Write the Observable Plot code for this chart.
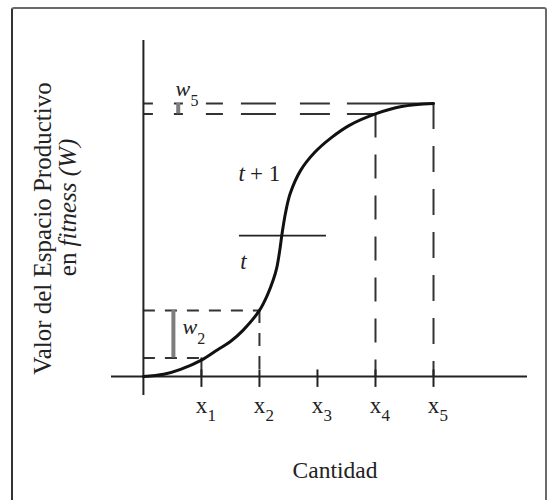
<!DOCTYPE html>
<html><head><meta charset="utf-8">
<script src="https://cdn.jsdelivr.net/npm/d3@7"></script>
<script src="https://cdn.jsdelivr.net/npm/@observablehq/plot@0.6"></script>
<style>
html,body{margin:0;padding:0;background:#fff;overflow:hidden;}
#wrap{position:relative;width:547px;height:500px;overflow:hidden;}
#border{position:absolute;left:10.5px;top:6.5px;width:532.5px;height:540px;border:2px solid #6a6a6a;border-left-color:#333;border-radius:3px;pointer-events:none;}
</style></head><body>
<div id="wrap"><div id="chart"></div><div id="border"></div></div>
<script>
// Curve: Cantidad (in units of x-tick spacing) vs Valor W (0..100 at x5)
const cantidad = [0, 0.35, 0.64, 1, 1.28, 1.5, 1.72, 2, 2.14, 2.24, 2.3, 2.35, 2.39, 2.45, 2.53, 2.71, 2.95, 3.24, 3.55, 4, 4.45, 5];
const valorW   = [0, 0.8, 2.6, 6.0, 9.8, 12.8, 17, 24.2, 30, 35.5, 40, 46.2, 52.4, 60, 67, 75.5, 82.05, 87.5, 92, 96.2, 98.9, 100];
const tickPos = [1, 2, 3, 4, 5];
const tickSub = ["1", "2", "3", "4", "5"];
// Levels read at the ticks
const w2Low = 6.8, w2High = 24.2, w5Low = 96.2, w5High = 100;
const tLevel = 51.6;

const xDomain = [-0.55, 6.62];
const yDomain = [-6.96, 123.08];

const curveData = cantidad.map((c, i) => ({c, w: valorW[i]}));
const tickData = tickPos.map((p, i) => ({p, s: tickSub[i]}));

const serif = "Liberation Serif, Times New Roman, serif";
const ink = "#222";
const longDash = "10,21,9,23,17,18,35,24,30,17,90";

const plot = Plot.plot({
  width: 547, height: 500,
  marginLeft: 111, marginRight: 20, marginTop: 40, marginBottom: 105,
  x: {domain: xDomain, axis: null},
  y: {domain: yDomain, axis: null},
  style: {fontFamily: serif, background: "white"},
  marks: [
    // dashed guide lines (horizontal)
    Plot.ruleY([w5High], {x1: 0, x2: 5, stroke: "#333", strokeWidth: 2, strokeDasharray: longDash}),
    Plot.ruleY([w5Low], {x1: 0, x2: 4, stroke: "#333", strokeWidth: 2, strokeDasharray: longDash}),
    Plot.ruleY([w2High], {x1: 0, x2: 2, stroke: "#333", strokeWidth: 2, strokeDasharray: "12,10"}),
    Plot.ruleY([w2Low], {x1: 0, x2: 1, stroke: "#333", strokeWidth: 2, strokeDasharray: "12,10"}),
    // dashed guide lines (vertical)
    Plot.ruleX([5], {y1: w5High, y2: 0, stroke: "#333", strokeWidth: 2, strokeDasharray: "26,17"}),
    Plot.ruleX([4], {y1: w5Low, y2: 0, stroke: "#333", strokeWidth: 2, strokeDasharray: "24,17"}),
    Plot.ruleX([2], {y1: w2High, y2: 0, stroke: "#333", strokeWidth: 2, strokeDasharray: "13,10"}),
    Plot.ruleX([1], {y1: w2Low, y2: 0, stroke: "#333", strokeWidth: 2}),
    // axes
    Plot.ruleY([0], {x1: xDomain[0], x2: xDomain[1], stroke: ink, strokeWidth: 2}),
    Plot.ruleX([0], {y1: yDomain[0], y2: yDomain[1], stroke: ink, strokeWidth: 2}),
    // ticks
    Plot.ruleX(tickData, {x: "p", y1: -4, y2: 2.4, stroke: ink, strokeWidth: 2}),
    // t line
    Plot.ruleY([tLevel], {x1: 1.655, x2: 3.155, stroke: ink, strokeWidth: 1.6}),
    // gray w bars
    Plot.ruleX([0.6], {y1: w5Low, y2: w5High, stroke: "#7d7d7d", strokeWidth: 4}),
    Plot.ruleX([0.517], {y1: w2Low, y2: w2High, stroke: "#7d7d7d", strokeWidth: 4}),
    // curve
    Plot.line(curveData, {x: "c", y: "w", curve: "catmull-rom", stroke: "#111", strokeWidth: 3}),
    // tick labels
    Plot.text(tickData, {x: "p", y: -10.6, text: () => "x", fontSize: 23, fill: ink, textAnchor: "middle", lineAnchor: "middle"}),
    Plot.text(tickData, {x: "p", y: -14.4, text: "s", fontSize: 17, fill: ink, textAnchor: "start", lineAnchor: "middle", dx: 6}),
    // annotations
    Plot.text(["w"], {x: 0.552, y: 105.4, fontSize: 22, fontStyle: "italic", fill: ink, textAnchor: "start", lineAnchor: "middle"}),
    Plot.text(["5"], {x: 0.81, y: 101.0, fontSize: 16, fill: ink, textAnchor: "start", lineAnchor: "middle"}),
    Plot.text(["w"], {x: 0.672, y: 18.2, fontSize: 22, fontStyle: "italic", fill: ink, textAnchor: "start", lineAnchor: "middle"}),
    Plot.text(["2"], {x: 0.93, y: 13.8, fontSize: 16, fill: ink, textAnchor: "start", lineAnchor: "middle"}),
    Plot.text(["t"], {x: 1.64, y: 74.4, fontSize: 23, fontStyle: "italic", fill: ink, textAnchor: "start", lineAnchor: "middle"}),
    Plot.text(["+ 1"], {x: 2.36, y: 74.4, fontSize: 23, fill: ink, textAnchor: "end", lineAnchor: "middle"}),
    Plot.text(["t"], {x: 1.67, y: 42.1, fontSize: 23, fontStyle: "italic", fill: ink, textAnchor: "start", lineAnchor: "middle"}),
    // axis titles
    Plot.text(["Cantidad"], {frameAnchor: "bottom", dx: 15.5, dy: 74.5, fontSize: 23.5, fill: ink, textAnchor: "middle", lineAnchor: "middle"}),
    Plot.text(["Valor del Espacio Productivo"], {frameAnchor: "left", dx: -69, dy: 10.5, rotate: -90, fontSize: 25, fill: ink, textAnchor: "middle", lineAnchor: "middle"}),
    Plot.text(["en"], {frameAnchor: "left", dx: -44, dy: 34.6, rotate: -90, fontSize: 25, fill: ink, textAnchor: "end", lineAnchor: "middle"}),
    Plot.text(["fitness (W)"], {frameAnchor: "left", dx: -44, dy: 28.4, rotate: -90, fontSize: 25, fontStyle: "italic", fill: ink, textAnchor: "start", lineAnchor: "middle"})
  ]
});
document.getElementById("chart").appendChild(plot);
</script>
</body></html>
